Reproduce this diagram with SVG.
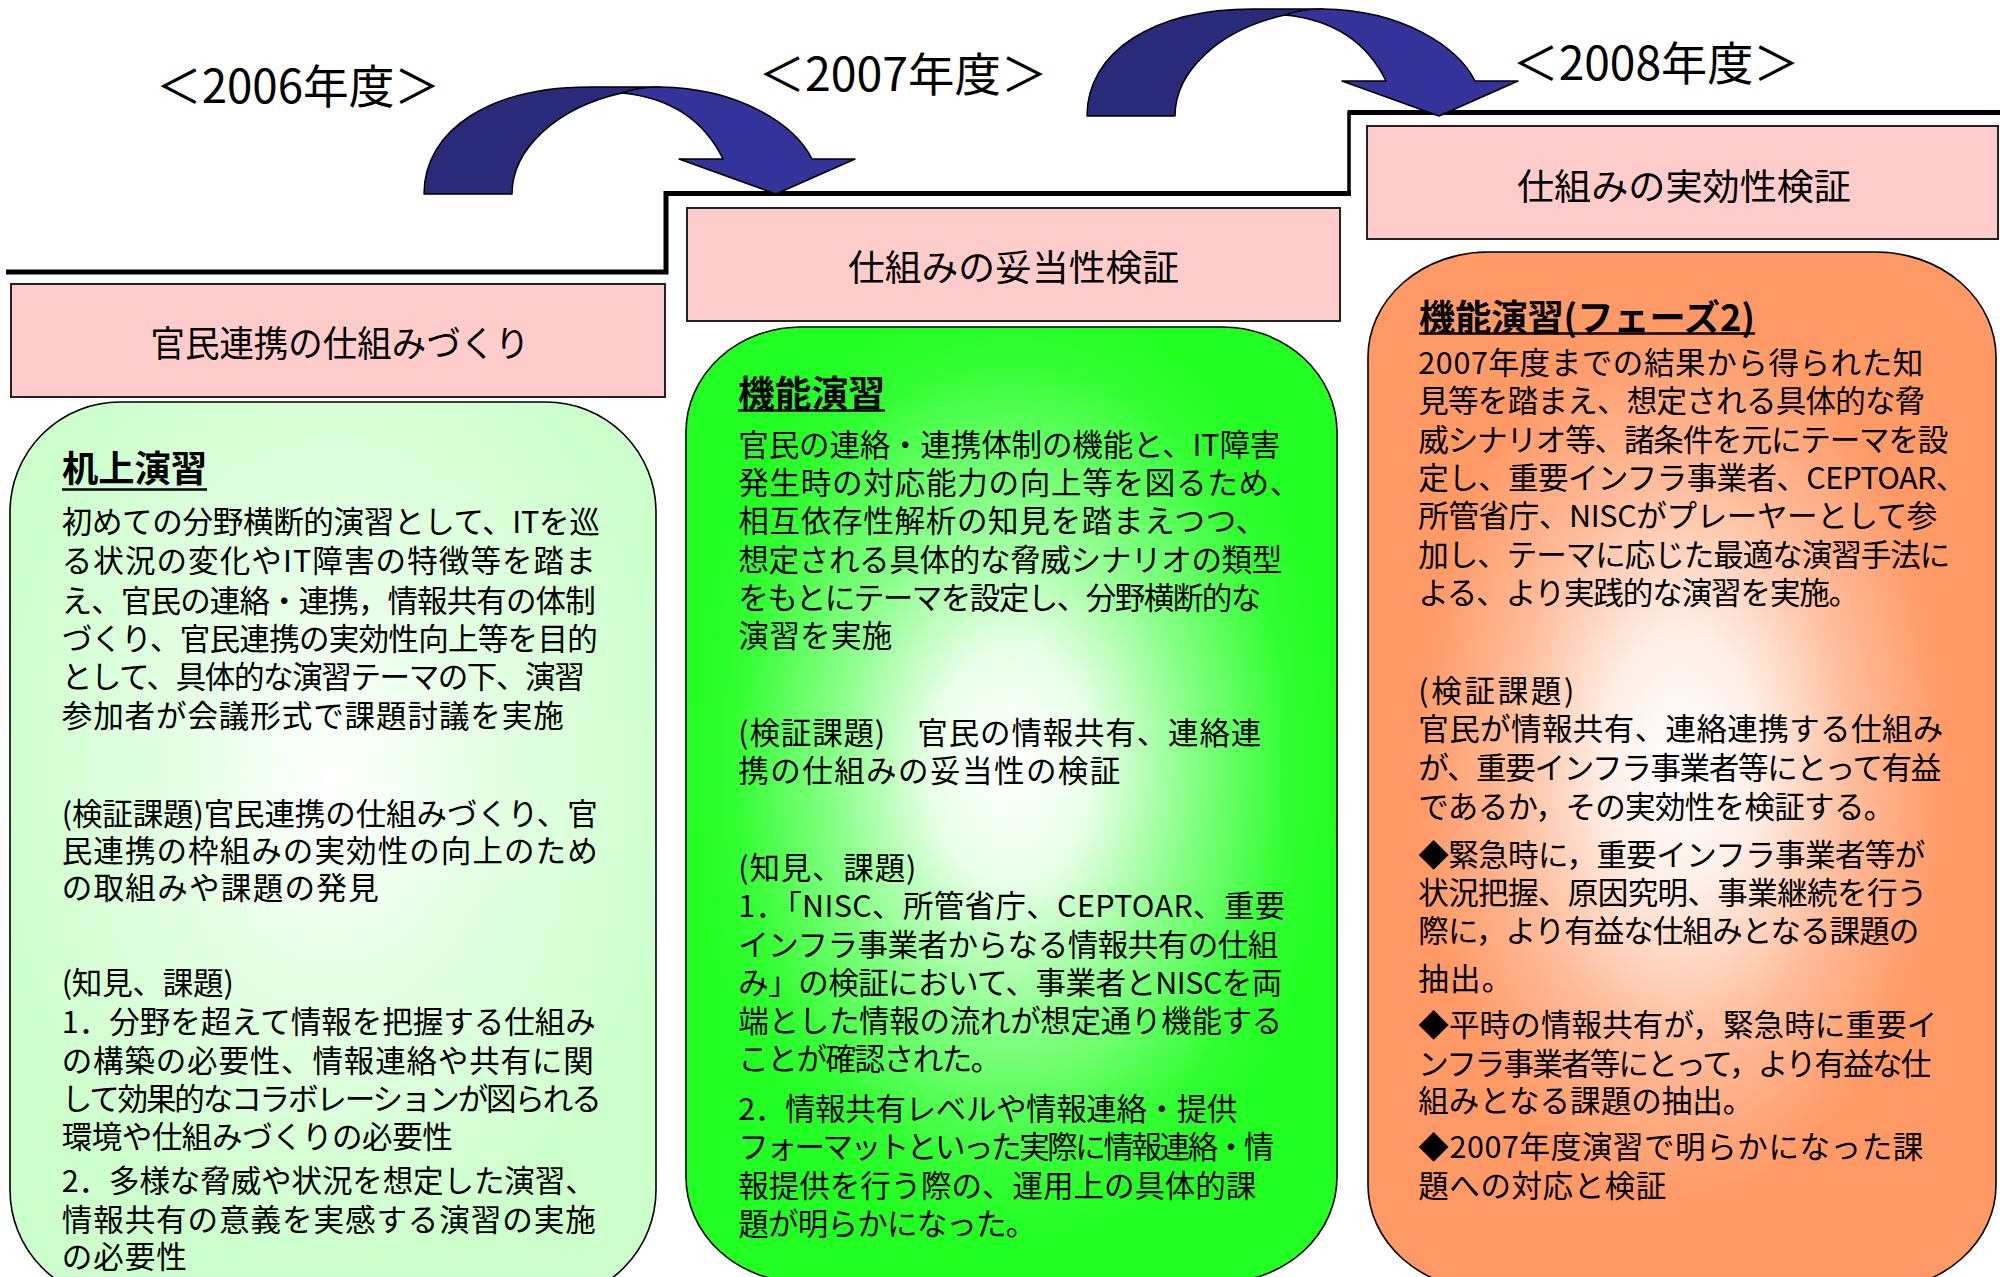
<svg xmlns="http://www.w3.org/2000/svg" width="2000" height="1277" viewBox="0 0 2000 1277">
<style>
text{font-family:"Noto Sans CJK JP","Noto Sans CJK SC",sans-serif;fill:#000}
.b{font-size:30.5px}
.t{font-size:36px;font-weight:bold}
.yr{font-size:46px}
.st{font-size:36px}
.pink{fill:#FFCCCC;stroke:#222;stroke-width:2}
.card{stroke:#000;stroke-width:1.6}
.ul{stroke:#000;stroke-width:2.6}
.step{fill:none;stroke:#000;stroke-width:5}
.ad{fill:#2A2A7A;stroke:#000;stroke-width:1.5;stroke-linejoin:round}
.al{fill:#333399;stroke:#000;stroke-width:1.5;stroke-linejoin:round}
</style>
<defs>
<radialGradient id="g1" cx="0.5" cy="0.42" r="0.55">
<stop offset="0" stop-color="#FFFFFF"/>
<stop offset="0.4" stop-color="#E6FFE6"/>
<stop offset="1" stop-color="#CCFFCC"/>
</radialGradient>
<radialGradient id="g2" cx="0.5" cy="0.46" r="0.5">
<stop offset="0" stop-color="#FFFFFF"/>
<stop offset="0.25" stop-color="#E8FFE8"/>
<stop offset="0.55" stop-color="#88FF88"/>
<stop offset="0.85" stop-color="#33FF33"/>
<stop offset="1" stop-color="#22FF22"/>
</radialGradient>
<radialGradient id="g3" cx="0.5" cy="0.49" r="0.5">
<stop offset="0" stop-color="#FFFFFF"/>
<stop offset="0.25" stop-color="#FFEEE6"/>
<stop offset="0.55" stop-color="#FFBB99"/>
<stop offset="0.85" stop-color="#FF9966"/>
<stop offset="1" stop-color="#FF9966"/>
</radialGradient>
<g id="arrowShape">
<path class="ad" d="M424,194 C424,130 490,87 590,87 C615,87 640,87 660,87 C645,88 632,90 622,93 C555,108 512,150 512,194 Z"/>
<path class="al" d="M622,93 C632,89 645,87 660,87 C740,88 795,125 812,159 L855,159 L776,194 L679,159 L723,159 C705,122 672,98 622,93 Z"/>
</g>
</defs>
<rect width="2000" height="1277" fill="#FFFFFF"/>

<g id="connectors">
<polyline class="step" points="6,272 666,272 666,193.5 1351,193.5"/>
<line x1="1349" y1="193.5" x2="1349" y2="112.5" stroke="#000" stroke-width="3.5"/>
<line x1="1347.5" y1="112.5" x2="2000" y2="112.5" stroke="#000" stroke-width="5"/>
<use id="arrow-2006-2007" href="#arrowShape"/>
<use id="arrow-2007-2008" href="#arrowShape" transform="translate(663,-78)"/>
</g>

<g id="year-2006"><text class="yr" x="298" y="103" text-anchor="middle" textLength="284" lengthAdjust="spacingAndGlyphs">＜2006年度＞</text></g>
<g id="year-2007"><text class="yr" x="903" y="91" text-anchor="middle" textLength="289" lengthAdjust="spacingAndGlyphs">＜2007年度＞</text></g>
<g id="year-2008"><text class="yr" x="1656" y="80" text-anchor="middle" textLength="287" lengthAdjust="spacingAndGlyphs">＜2008年度＞</text></g>

<g id="stage-2006">
<rect class="pink" x="11" y="284" width="654" height="113"/>
<text class="st" x="340" y="357" text-anchor="middle" textLength="379" lengthAdjust="spacingAndGlyphs">官民連携の仕組みづくり</text>
</g>
<g id="stage-2007">
<rect class="pink" x="687" y="208" width="653" height="113"/>
<text class="st" x="1013.5" y="281" text-anchor="middle" textLength="331" lengthAdjust="spacingAndGlyphs">仕組みの妥当性検証</text>
</g>
<g id="stage-2008">
<rect class="pink" x="1367" y="126" width="631" height="113"/>
<text class="st" x="1684" y="200" text-anchor="middle" textLength="334" lengthAdjust="spacingAndGlyphs">仕組みの実効性検証</text>
</g>

<g id="card-2006">
<rect class="card" x="10" y="402" width="646" height="898" rx="110" ry="110" fill="url(#g1)"/>
<text class="t" x="62" y="482" textLength="145" lengthAdjust="spacingAndGlyphs">机上演習</text>
<line class="ul" x1="62" y1="489.5" x2="207" y2="489.5"/>
<text class="b" x="61.7" y="533.3" textLength="538">初めての分野横断的演習として、ITを巡</text>
<text class="b" x="61.7" y="572.3" textLength="534">る状況の変化やIT障害の特徴等を踏ま</text>
<text class="b" x="61.7" y="611.6" textLength="534">え、官民の連絡・連携，情報共有の体制</text>
<text class="b" x="61.7" y="649.6" textLength="536">づくり、官民連携の実効性向上等を目的</text>
<text class="b" x="61.7" y="688.3" textLength="523">として、具体的な演習テーマの下、演習</text>
<text class="b" x="61.7" y="726.6" textLength="502">参加者が会議形式で課題討議を実施</text>
<text class="b" x="61.7" y="824.6" textLength="536">(検証課題)官民連携の仕組みづくり、官</text>
<text class="b" x="61.7" y="861.6" textLength="536">民連携の枠組みの実効性の向上のため</text>
<text class="b" x="61.7" y="899.3" textLength="317">の取組みや課題の発見</text>
<text class="b" x="61.7" y="993.6" textLength="172">(知見、課題)</text>
<text class="b" x="61.7" y="1033.3" textLength="534">1．分野を超えて情報を把握する仕組み</text>
<text class="b" x="61.7" y="1072.3" textLength="532">の構築の必要性、情報連絡や共有に関</text>
<text class="b" x="61.7" y="1109.6" textLength="540">して効果的なコラボレーションが図られる</text>
<text class="b" x="61.7" y="1148.3" textLength="391">環境や仕組みづくりの必要性</text>
<text class="b" x="61.7" y="1191.6" textLength="534">2．多様な脅威や状況を想定した演習、</text>
<text class="b" x="61.7" y="1230.6" textLength="534">情報共有の意義を実感する演習の実施</text>
<text class="b" x="61.7" y="1268.3" textLength="125">の必要性</text>
</g>

<g id="card-2007">
<rect class="card" x="686" y="327" width="651" height="955" rx="115" ry="105" fill="url(#g2)"/>
<text class="t" x="738" y="407" textLength="147" lengthAdjust="spacingAndGlyphs">機能演習</text>
<line class="ul" x1="738" y1="410.5" x2="885" y2="410.5"/>
<text class="b" x="738.3" y="455.6" textLength="542">官民の連絡・連携体制の機能と、IT障害</text>
<text class="b" x="738.3" y="493.9" textLength="562">発生時の対応能力の向上等を図るため、</text>
<text class="b" x="738.3" y="532.3" textLength="528">相互依存性解析の知見を踏まえつつ、</text>
<text class="b" x="738.3" y="570.6" textLength="544">想定される具体的な脅威シナリオの類型</text>
<text class="b" x="738.3" y="608.9" textLength="523">をもとにテーマを設定し、分野横断的な</text>
<text class="b" x="738.3" y="647.3" textLength="154">演習を実施</text>
<text class="b" x="738.3" y="743.9" textLength="523">(検証課題)　官民の情報共有、連絡連</text>
<text class="b" x="738.3" y="782.3" textLength="382">携の仕組みの妥当性の検証</text>
<text class="b" x="738.3" y="878.9" textLength="178">(知見、課題)</text>
<text class="b" x="738.3" y="916.6" textLength="547">1．「NISC、所管省庁、CEPTOAR、重要</text>
<text class="b" x="738.3" y="955.6" textLength="540">インフラ事業者からなる情報共有の仕組</text>
<text class="b" x="738.3" y="993.9" textLength="544">み」の検証において、事業者とNISCを両</text>
<text class="b" x="738.3" y="1032.3" textLength="544">端とした情報の流れが想定通り機能する</text>
<text class="b" x="738.3" y="1069.9" textLength="263">ことが確認された。</text>
<text class="b" x="738.3" y="1119.9" textLength="499">2．情報共有レベルや情報連絡・提供</text>
<text class="b" x="738.3" y="1158.3" textLength="536">フォーマットといった実際に情報連絡・情</text>
<text class="b" x="738.3" y="1197.3" textLength="518">報提供を行う際の、運用上の具体的課</text>
<text class="b" x="738.3" y="1234.9" textLength="298">題が明らかになった。</text>
</g>

<g id="card-2008">
<rect class="card" x="1368" y="252" width="628" height="1038" rx="120" ry="105" fill="url(#g3)"/>
<text class="t" x="1419" y="331" textLength="336" lengthAdjust="spacingAndGlyphs">機能演習(フェーズ2)</text>
<line class="ul" x1="1419" y1="333.5" x2="1755" y2="333.5"/>
<text class="b" x="1418.3" y="373.9" textLength="505">2007年度までの結果から得られた知</text>
<text class="b" x="1418.3" y="412.3" textLength="507">見等を踏まえ、想定される具体的な脅</text>
<text class="b" x="1418.3" y="450.6" textLength="530">威シナリオ等、諸条件を元にテーマを設</text>
<text class="b" x="1418.3" y="488.9" textLength="548">定し、重要インフラ事業者、CEPTOAR、</text>
<text class="b" x="1418.3" y="527.3" textLength="519">所管省庁、NISCがプレーヤーとして参</text>
<text class="b" x="1418.3" y="565.6" textLength="532">加し、テーマに応じた最適な演習手法に</text>
<text class="b" x="1418.3" y="603.9" textLength="441">よる、より実践的な演習を実施。</text>
<text class="b" x="1418.3" y="701.6" textLength="156">(検証課題)</text>
<text class="b" x="1418.3" y="739.9" textLength="525">官民が情報共有、連絡連携する仕組み</text>
<text class="b" x="1418.3" y="778.9" textLength="523">が、重要インフラ事業者等にとって有益</text>
<text class="b" x="1418.3" y="818.3" textLength="476">であるか，その実効性を検証する。</text>
<text class="b" x="1418.3" y="865.6" textLength="507">◆緊急時に，重要インフラ事業者等が</text>
<text class="b" x="1418.3" y="903.9" textLength="509">状況把握、原因究明、事業継続を行う</text>
<text class="b" x="1418.3" y="942.3" textLength="501">際に，より有益な仕組みとなる課題の</text>
<text class="b" x="1418.3" y="989.9" textLength="94">抽出。</text>
<text class="b" x="1418.3" y="1035.6" textLength="519">◆平時の情報共有が，緊急時に重要イ</text>
<text class="b" x="1418.3" y="1074.9" textLength="513">ンフラ事業者等にとって，より有益な仕</text>
<text class="b" x="1418.3" y="1112.3" textLength="335">組みとなる課題の抽出。</text>
<text class="b" x="1418.3" y="1158.3" textLength="505">◆2007年度演習で明らかになった課</text>
<text class="b" x="1418.3" y="1196.6" textLength="248">題への対応と検証</text>
</g>
</svg>
